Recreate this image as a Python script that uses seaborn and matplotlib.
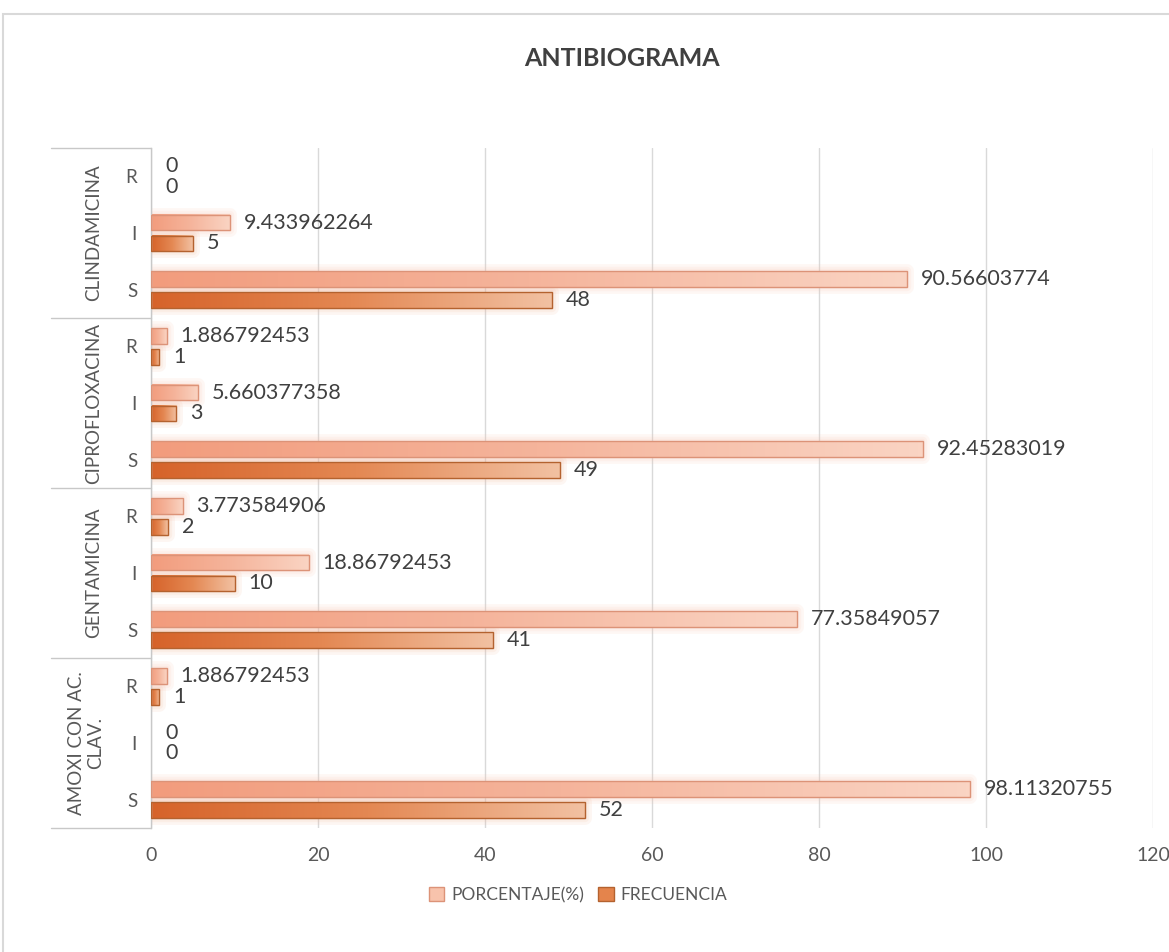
import numpy as np
import pandas as pd
import matplotlib
matplotlib.use("Agg")
import matplotlib.pyplot as plt
import matplotlib.transforms as mtransforms
from matplotlib.colors import LinearSegmentedColormap
from matplotlib.patches import Rectangle, Patch
import seaborn as sns

# --- data -------------------------------------------------------------
antibioticos = ["CLINDAMICINA", "CIPROFLOXACINA", "GENTAMICINA", "AMOXI CON AC.\nCLAV."]
resultados = ["R", "I", "S"]
series = ["PORCENTAJE(%)", "FRECUENCIA"]

porcentaje = [
    0, 9.433962264, 90.56603774,          # CLINDAMICINA R, I, S
    1.886792453, 5.660377358, 92.45283019,  # CIPROFLOXACINA
    3.773584906, 18.86792453, 77.35849057,  # GENTAMICINA
    1.886792453, 0, 98.11320755,          # AMOXI CON AC. CLAV.
]
frecuencia = [
    0, 5, 48,
    1, 3, 49,
    2, 10, 41,
    1, 0, 52,
]
x_ticks = [0, 20, 40, 60, 80, 100, 120]

# --- long table for seaborn ------------------------------------------
keys = [f"{a}|{r}" for a in antibioticos for r in resultados]
df = pd.DataFrame({
    "clave": keys * 2,
    "serie": [series[0]] * len(keys) + [series[1]] * len(keys),
    "valor": porcentaje + frecuencia,
})

sns.set_theme(style="white")
plt.rcParams["font.family"] = ["Lato", "DejaVu Sans"]

W, H = 1169, 952
fig = plt.figure(figsize=(W / 100, H / 100), dpi=100)
fig.patch.set_facecolor("white")
ax = fig.add_axes([151 / W, 1 - 828 / H, 1002 / W, 680 / H])

sns.barplot(
    data=df, y="clave", x="valor", hue="serie",
    order=keys, hue_order=series, orient="h",
    width=0.74, gap=0.24, saturation=1,
    palette=["#F5B096", "#E07E45"], legend=False, ax=ax,
)

ax.set_xlim(0, 120)
ax.set_ylim(len(keys) - 0.5, -0.5)

# gradient fills, edges and soft glow for each bar
cmaps = [
    LinearSegmentedColormap.from_list("pct", ["#F29C7D", "#F5B49B", "#FAD4C3"]),
    LinearSegmentedColormap.from_list("frec", ["#D6632A", "#E48853", "#F2C1A2"]),
]
edges = ["#DC9378", "#B4622F"]
glows = ["#F7C2AC", "#F2B597"]
label_color = "#404040"
grad = np.linspace(0, 1, 256)[None, :]

for cont, cmap, ec, gc in zip(ax.containers, cmaps, edges, glows):
    for bar, val in zip(cont, cont.datavalues):
        x0, y0 = bar.get_x(), bar.get_y()
        w, h = bar.get_width(), bar.get_height()
        if w > 0:
            for lw in (10, 6, 3):
                ax.add_patch(Rectangle((x0, y0), w, h, facecolor=gc, edgecolor=gc,
                                       lw=lw, alpha=0.12, zorder=1.5, joinstyle="round"))
            ax.imshow(grad, cmap=cmap, extent=(x0, x0 + w, y0 + h, y0),
                      aspect="auto", interpolation="bilinear", zorder=2)
            bar.set_facecolor("none")
            bar.set_edgecolor(ec)
            bar.set_linewidth(1.0)
            bar.set_zorder(3)
        else:
            bar.set_visible(False)
        ax.annotate(f"{val:.10g}", xy=(x0 + w, y0 + h / 2), xytext=(10, 0),
                    textcoords="offset points", ha="left", va="center",
                    fontsize=15.5, color=label_color)

ax.set_xlim(0, 120)
ax.set_ylim(len(keys) - 0.5, -0.5)

# axes styling
ax.set_xlabel("")
ax.set_ylabel("")
ax.set_xticks(x_ticks)
ax.set_xticklabels([str(t) for t in x_ticks])
ax.set_yticks(range(len(keys)))
ax.set_yticklabels([k.split("|")[1] for k in keys])
ax.tick_params(axis="x", length=0, pad=14, labelsize=14, labelcolor="#595959")
ax.tick_params(axis="y", length=0, pad=10, labelsize=13.5, labelcolor="#595959")
ax.grid(axis="x", color="#D9D9D9", lw=1)
ax.grid(axis="y", visible=False)
ax.set_axisbelow(True)
for side in ("top", "right", "bottom"):
    ax.spines[side].set_visible(False)
ax.spines["left"].set_color("#C8C8C8")
ax.spines["left"].set_linewidth(1)

# two-level category axis: group separators and rotated group names
tr = mtransforms.blended_transform_factory(ax.transAxes, ax.transData)
x_left = (51 - 151) / 1002
for yb in np.arange(-0.5, len(keys), 3):
    ax.plot([x_left, 0], [yb, yb], transform=tr, color="#C8C8C8", lw=1, clip_on=False)
for i, name in enumerate(antibioticos):
    xc = -0.0649 if "\n" in name else -0.0569
    ax.text(xc, 3 * i + 1, name, transform=tr, rotation=90, ha="center", va="center",
            fontsize=13.5, color="#595959", linespacing=1.1, multialignment="center")

# title, legend, chart frame
fig.text(622 / W, 1 - 58 / H, "ANTIBIOGRAMA", ha="center", va="center",
         fontsize=18, fontweight="bold", color="#404040")

handles = [Patch(facecolor="#F8C3AC", edgecolor=edges[0]),
           Patch(facecolor="#E4844C", edgecolor=edges[1])]
fig.legend(handles, series, loc="center", bbox_to_anchor=(578 / W, 1 - 895 / H),
           ncol=2, frameon=False, handlelength=0.9, handleheight=0.9,
           handletextpad=0.4, columnspacing=0.8, fontsize=12.5, labelcolor="#595959")

fig.add_artist(Rectangle((3 / W, -0.1), 2, 1 - 14 / H + 0.1, transform=fig.transFigure,
                         facecolor="none", edgecolor="#D9D9D9", lw=1.5))

fig.savefig("out.png", dpi=100, facecolor="white")
